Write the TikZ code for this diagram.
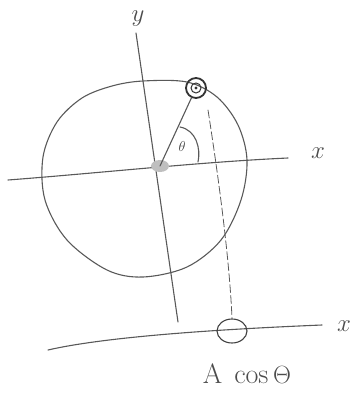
\documentclass[tikz,border=0pt]{standalone}
\usetikzlibrary{calc,shapes.geometric}
\begin{document}
\begin{tikzpicture}[x=1pt,y=-1pt,
  pencil/.style={draw=black!65,line width=1.1pt,line cap=round,line join=round},
  lbl/.style={text=black!70,inner sep=0pt,font=\fontsize{28}{30}\selectfont},
  ball/.style={circle,draw=black!80,line width=1.8pt,minimum size=20pt,inner sep=0pt}
]
\useasboundingbox (0,0) rectangle (358,396);
% circle (hand drawn)
\draw[pencil] plot[smooth cycle,tension=0.55] coordinates {
 (112,86) (143,81) (187,82) (217,97) (238,125) (247,160) (241,200) (221,240)
 (187,267) (143,277) (107,270) (67,240) (45,200) (43,157) (57,122) (82,98)};
% y axis
\coordinate (ytop) at (136,33);
\coordinate (ybot) at (178,322);
\draw[pencil] (ytop) -- (ybot);
\node[lbl] (ylab) at (138,19) {$y$};
% x axis (upper)
\coordinate (xl) at (8,180);
\coordinate (xr) at (288,158);
\draw[pencil] (xl) .. controls (100,173) and (200,162) .. (xr);
\node[lbl] (xlab) at (318,153) {$x$};
% origin and ball
\coordinate (O) at (160,166);
\fill[black!25] (O) ellipse (9 and 6);
\node[ball] (P) at (196,88) {};
\node[circle,draw=black!80,line width=1pt,minimum size=10pt,inner sep=0pt] (Pin) at (P) {};
\fill[black!80] (P) circle (1.6);
\draw[pencil] (O) -- (P);
% angle arc
\draw[pencil] (180,127) .. controls (196,130) and (201,148) .. (198,162);
\node[text=black!75,inner sep=0pt,font=\fontsize{14}{14}\selectfont] (th) at (182,146) {$\theta$};
% lower x axis
\coordinate (ll) at (48,350);
\coordinate (lr) at (322,325);
\draw[pencil] (ll) .. controls (100,338) and (200,330) .. (lr);
\node[lbl] (xlab2) at (344,326) {$x$};
% projected point
\node[ellipse,draw=black!75,line width=1.1pt,minimum width=30pt,minimum height=24pt,inner sep=0pt] (Q) at (232,331) {};
% dashed projection
\draw[pencil,line width=0.8pt,dash pattern=on 8pt off 3pt] (208,110) .. controls (222,200) and (230,270) .. (Q.north);
% label
\node[lbl,anchor=base] (A) at (247,383) {A\hspace{12pt}cos\,$\Theta$};
\end{tikzpicture}
\end{document}
